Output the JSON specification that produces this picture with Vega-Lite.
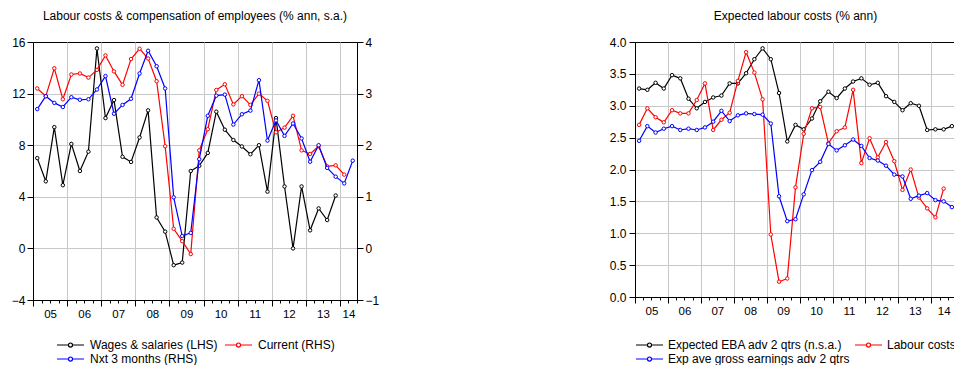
{
  "$schema": "https://vega.github.io/schema/vega-lite/v6.json",
  "padding": {"left": 5, "top": 9, "right": 0, "bottom": 0},
  "config": {
    "font": "Liberation Sans",
    "view": {"stroke": "black", "strokeWidth": 1},
    "style": {"cell": {"stroke": "black", "strokeWidth": 1}},
    "axis": {"labelFont": "Liberation Sans", "labelFontSize": 11, "labelColor": "black", "domainColor": "black", "tickColor": "black", "gridColor": "#c8c8c8", "gridWidth": 1},
    "axisY": {"labelFontSize": 12},
    "axisX": {"labelFontSize": 11.5},
    "legend": {"layout": {"bottom": {"anchor": "middle"}}},
    "title": {"fontSize": 12, "fontWeight": "normal", "font": "Liberation Sans", "color": "black", "offset": 13}
  },
  "resolve": {"scale": {"color": "independent"}, "legend": {"color": "independent"}},
  "spacing": 227,
  "hconcat": [
    {
      "width": 324,
      "height": 258,
      "view": {"stroke": "black", "strokeWidth": 1},
      "title": "Labour costs & compensation of employees (% ann, s.a.)",
      "data": {"values": [
        {"t": 2005.125, "w": 7.0, "c": 3.10, "n": 2.70},
        {"t": 2005.375, "w": 5.2, "c": 2.95, "n": 2.95},
        {"t": 2005.625, "w": 9.4, "c": 3.49, "n": 2.82},
        {"t": 2005.875, "w": 4.9, "c": 2.89, "n": 2.74},
        {"t": 2006.125, "w": 8.1, "c": 3.37, "n": 2.93},
        {"t": 2006.375, "w": 6.0, "c": 3.39, "n": 2.88},
        {"t": 2006.625, "w": 7.5, "c": 3.31, "n": 2.89},
        {"t": 2006.875, "w": 15.5, "c": 3.46, "n": 3.08},
        {"t": 2007.125, "w": 10.1, "c": 3.74, "n": 3.34},
        {"t": 2007.375, "w": 11.5, "c": 3.43, "n": 2.61},
        {"t": 2007.625, "w": 7.1, "c": 3.17, "n": 2.78},
        {"t": 2007.875, "w": 6.7, "c": 3.67, "n": 2.90},
        {"t": 2008.125, "w": 8.6, "c": 3.87, "n": 3.39},
        {"t": 2008.375, "w": 10.7, "c": 3.68, "n": 3.83},
        {"t": 2008.625, "w": 2.4, "c": 3.24, "n": 3.53},
        {"t": 2008.875, "w": 1.3, "c": 1.98, "n": 3.10},
        {"t": 2009.125, "w": -1.3, "c": 0.38, "n": 0.99},
        {"t": 2009.375, "w": -1.1, "c": 0.14, "n": 0.24},
        {"t": 2009.625, "w": 6.0, "c": -0.11, "n": 0.30},
        {"t": 2009.875, "w": 6.4, "c": 1.90, "n": 1.73},
        {"t": 2010.125, "w": 7.4, "c": 2.31, "n": 2.57},
        {"t": 2010.375, "w": 10.6, "c": 3.07, "n": 2.96},
        {"t": 2010.625, "w": 9.2, "c": 3.18, "n": 2.98},
        {"t": 2010.875, "w": 8.4, "c": 2.79, "n": 2.40},
        {"t": 2011.125, "w": 7.9, "c": 2.95, "n": 2.60},
        {"t": 2011.375, "w": 7.3, "c": 2.78, "n": 2.67},
        {"t": 2011.625, "w": 8.0, "c": 3.00, "n": 3.26},
        {"t": 2011.875, "w": 4.4, "c": 2.86, "n": 2.09},
        {"t": 2012.125, "w": 10.1, "c": 2.25, "n": 2.48},
        {"t": 2012.375, "w": 4.8, "c": 2.34, "n": 2.18},
        {"t": 2012.625, "w": 0.0, "c": 2.57, "n": 2.42},
        {"t": 2012.875, "w": 4.8, "c": 1.90, "n": 2.13},
        {"t": 2013.125, "w": 1.4, "c": 1.83, "n": 1.68},
        {"t": 2013.375, "w": 3.1, "c": 1.98, "n": 2.00},
        {"t": 2013.625, "w": 2.2, "c": 1.59, "n": 1.56},
        {"t": 2013.875, "w": 4.1, "c": 1.61, "n": 1.39},
        {"t": 2014.125, "c": 1.43, "n": 1.26},
        {"t": 2014.375, "n": 1.70}
      ]},
      "encoding": {
        "x": {
          "field": "t", "type": "quantitative",
          "scale": {"domain": [2005, 2014.5], "nice": false, "zero": false},
          "axis": {
            "title": null,
            "values": [2005, 2005.25, 2005.5, 2005.75, 2006, 2006.25, 2006.5, 2006.75, 2007, 2007.25, 2007.5, 2007.75, 2008, 2008.25, 2008.5, 2008.75, 2009, 2009.25, 2009.5, 2009.75, 2010, 2010.25, 2010.5, 2010.75, 2011, 2011.25, 2011.5, 2011.75, 2012, 2012.25, 2012.5, 2012.75, 2013, 2013.25, 2013.5, 2013.75, 2014, 2014.25, 2014.5],
            "labelExpr": "datum.value < 2014 && datum.value % 1 == 0.5 ? slice(toString(floor(datum.value)), 2) : (datum.value == 2014.25 ? '14' : '')",
            "labelFlush": false,
            "labelPadding": 5,
            "tickSize": {"condition": {"test": "datum.value % 1 == 0", "value": 6}, "value": 3},
            "gridOpacity": {"condition": {"test": "datum.value % 1 == 0 && datum.value > 2005", "value": 1}, "value": 0},
            "grid": true
          }
        }
      },
      "layer": [
        {
          "mark": {"type": "line", "strokeWidth": 1.2, "point": {"filled": false, "fill": "white", "size": 12, "strokeWidth": 1}},
          "encoding": {
            "y": {"field": "w", "type": "quantitative", "scale": {"domain": [-4, 16], "nice": false, "zero": false},
              "axis": {"title": null, "orient": "left", "values": [-4, 0, 4, 8, 12, 16], "grid": true, "gridOpacity": {"condition": {"test": "datum.value == 16 || datum.value == -4", "value": 0}, "value": 1}, "tickSize": 6, "labelPadding": 2, "minExtent": 27, "maxExtent": 27}},
            "color": {
              "datum": "Wages & salaries (LHS)", "type": "nominal",
              "scale": {"domain": ["Wages & salaries (LHS)", "Current (RHS)", "Nxt 3 months (RHS)"], "range": ["#000000", "#ff0000", "#0000ff"]},
              "legend": {"title": null, "orient": "bottom", "direction": "horizontal", "columns": 2, "labelFontSize": 12, "labelFont": "Liberation Sans", "labelColor": "black", "labelLimit": 400, "symbolType": "M-1,0L-0.15,0M0.15,0L1,0M0.15,0A0.15,0.15,0,1,1,-0.15,0A0.15,0.15,0,1,1,0.15,0", "symbolSize": 729, "symbolStrokeWidth": 1.2, "symbolFillColor": "white", "clipHeight": 14, "columnPadding": 6, "rowPadding": 0, "labelOffset": 5, "offset": 18}
            }
          }
        },
        {
          "layer": [
            {
              "mark": {"type": "line", "strokeWidth": 1.2, "point": {"filled": false, "fill": "white", "size": 12, "strokeWidth": 1}},
              "encoding": {
                "y": {"field": "c", "type": "quantitative", "scale": {"domain": [-1, 4], "nice": false, "zero": false},
                  "axis": {"title": null, "orient": "right", "values": [-1, 0, 1, 2, 3, 4], "grid": false, "tickSize": 6, "labelPadding": 2, "minExtent": 17, "maxExtent": 17}},
                "color": {"datum": "Current (RHS)", "type": "nominal"}
              }
            },
            {
              "mark": {"type": "line", "strokeWidth": 1.2, "point": {"filled": false, "fill": "white", "size": 12, "strokeWidth": 1}},
              "encoding": {
                "y": {"field": "n", "type": "quantitative", "scale": {"domain": [-1, 4], "nice": false, "zero": false},
                  "axis": {"title": null, "orient": "right", "values": [-1, 0, 1, 2, 3, 4], "grid": false, "tickSize": 6, "labelPadding": 2, "minExtent": 17, "maxExtent": 17}},
                "color": {"datum": "Nxt 3 months (RHS)", "type": "nominal"}
              }
            }
          ]
        }
      ],
      "resolve": {"scale": {"y": "independent"}}
    },
    {
      "width": 321,
      "height": 255,
      "view": {"stroke": "black", "strokeWidth": 1},
      "title": "Expected labour costs (% ann)",
      "data": {"values": [
        {"t": 2005.125, "e": 3.27, "l": 2.70, "g": 2.45},
        {"t": 2005.375, "e": 3.25, "l": 2.96, "g": 2.68},
        {"t": 2005.625, "e": 3.36, "l": 2.82, "g": 2.58},
        {"t": 2005.875, "e": 3.27, "l": 2.74, "g": 2.64},
        {"t": 2006.125, "e": 3.48, "l": 2.93, "g": 2.68},
        {"t": 2006.375, "e": 3.43, "l": 2.88, "g": 2.62},
        {"t": 2006.625, "e": 3.11, "l": 2.88, "g": 2.64},
        {"t": 2006.875, "e": 2.96, "l": 3.09, "g": 2.62},
        {"t": 2007.125, "e": 3.06, "l": 3.35, "g": 2.66},
        {"t": 2007.375, "e": 3.13, "l": 2.62, "g": 2.75},
        {"t": 2007.625, "e": 3.16, "l": 2.78, "g": 2.92},
        {"t": 2007.875, "e": 3.35, "l": 2.89, "g": 2.76},
        {"t": 2008.125, "e": 3.35, "l": 3.39, "g": 2.85},
        {"t": 2008.375, "e": 3.51, "l": 3.84, "g": 2.88},
        {"t": 2008.625, "e": 3.73, "l": 3.52, "g": 2.87},
        {"t": 2008.875, "e": 3.90, "l": 3.10, "g": 2.86},
        {"t": 2009.125, "e": 3.73, "l": 0.98, "g": 2.72},
        {"t": 2009.375, "e": 3.20, "l": 0.24, "g": 1.58},
        {"t": 2009.625, "e": 2.44, "l": 0.29, "g": 1.19},
        {"t": 2009.875, "e": 2.70, "l": 1.72, "g": 1.22},
        {"t": 2010.125, "e": 2.63, "l": 2.56, "g": 1.61},
        {"t": 2010.375, "e": 2.80, "l": 2.96, "g": 1.99},
        {"t": 2010.625, "e": 3.07, "l": 2.98, "g": 2.12},
        {"t": 2010.875, "e": 3.22, "l": 2.41, "g": 2.40},
        {"t": 2011.125, "e": 3.12, "l": 2.60, "g": 2.30},
        {"t": 2011.375, "e": 3.27, "l": 2.66, "g": 2.38},
        {"t": 2011.625, "e": 3.38, "l": 3.25, "g": 2.47},
        {"t": 2011.875, "e": 3.43, "l": 2.10, "g": 2.37},
        {"t": 2012.125, "e": 3.33, "l": 2.49, "g": 2.18},
        {"t": 2012.375, "e": 3.36, "l": 2.19, "g": 2.14},
        {"t": 2012.625, "e": 3.15, "l": 2.43, "g": 2.06},
        {"t": 2012.875, "e": 3.06, "l": 2.13, "g": 1.92},
        {"t": 2013.125, "e": 2.93, "l": 1.68, "g": 1.89},
        {"t": 2013.375, "e": 3.04, "l": 2.00, "g": 1.54},
        {"t": 2013.625, "e": 3.00, "l": 1.56, "g": 1.59},
        {"t": 2013.875, "e": 2.62, "l": 1.39, "g": 1.63},
        {"t": 2014.125, "e": 2.63, "l": 1.25, "g": 1.52},
        {"t": 2014.375, "e": 2.63, "l": 1.70, "g": 1.50},
        {"t": 2014.625, "e": 2.68, "g": 1.41}
      ]},
      "encoding": {
        "x": {
          "field": "t", "type": "quantitative",
          "scale": {"domain": [2005, 2014.75], "nice": false, "zero": false},
          "axis": {
            "title": null,
            "values": [2005, 2005.25, 2005.5, 2005.75, 2006, 2006.25, 2006.5, 2006.75, 2007, 2007.25, 2007.5, 2007.75, 2008, 2008.25, 2008.5, 2008.75, 2009, 2009.25, 2009.5, 2009.75, 2010, 2010.25, 2010.5, 2010.75, 2011, 2011.25, 2011.5, 2011.75, 2012, 2012.25, 2012.5, 2012.75, 2013, 2013.25, 2013.5, 2013.75, 2014, 2014.25, 2014.5, 2014.75, 2014.375],
            "labelExpr": "datum.value < 2014 && datum.value % 1 == 0.5 ? slice(toString(floor(datum.value)), 2) : (datum.value == 2014.375 ? '14' : '')",
            "labelFlush": false,
            "labelPadding": 5,
            "tickSize": {"condition": {"test": "datum.value % 1 == 0", "value": 6}, "value": 3},
            "tickOpacity": {"condition": {"test": "datum.value == 2014.375", "value": 0}, "value": 1},
            "gridOpacity": {"condition": {"test": "datum.value % 1 == 0 && datum.value > 2005", "value": 1}, "value": 0},
            "grid": true
          }
        },
        "y": {"type": "quantitative", "scale": {"domain": [0, 4], "nice": false, "zero": false},
          "axis": {"title": null, "values": [0, 0.5, 1, 1.5, 2, 2.5, 3, 3.5, 4], "format": ".1f", "grid": true, "gridOpacity": {"condition": {"test": "datum.value == 4 || datum.value == 0", "value": 0}, "value": 1}, "tickSize": 6, "labelPadding": 3, "minExtent": 27, "maxExtent": 27}}
      },
      "layer": [
        {
          "mark": {"type": "line", "strokeWidth": 1.2, "point": {"filled": false, "fill": "white", "size": 12, "strokeWidth": 1}},
          "encoding": {
            "y": {"field": "e"},
            "color": {
              "datum": "Expected EBA adv 2 qtrs (n.s.a.)", "type": "nominal",
              "scale": {"domain": ["Expected EBA adv 2 qtrs (n.s.a.)", "Labour costs", "Exp ave gross earnings adv 2 qtrs"], "range": ["#000000", "#ff0000", "#0000ff"]},
              "legend": {"title": null, "orient": "bottom", "direction": "horizontal", "columns": 2, "labelFontSize": 12, "labelFont": "Liberation Sans", "labelColor": "black", "labelLimit": 400, "symbolType": "M-1,0L-0.15,0M0.15,0L1,0M0.15,0A0.15,0.15,0,1,1,-0.15,0A0.15,0.15,0,1,1,0.15,0", "symbolSize": 729, "symbolStrokeWidth": 1.2, "symbolFillColor": "white", "clipHeight": 14, "columnPadding": 4, "rowPadding": 0, "labelOffset": 4, "offset": 21}
            }
          }
        },
        {
          "mark": {"type": "line", "strokeWidth": 1.2, "point": {"filled": false, "fill": "white", "size": 12, "strokeWidth": 1}},
          "encoding": {"y": {"field": "l"}, "color": {"datum": "Labour costs", "type": "nominal"}}
        },
        {
          "mark": {"type": "line", "strokeWidth": 1.2, "point": {"filled": false, "fill": "white", "size": 12, "strokeWidth": 1}},
          "encoding": {"y": {"field": "g"}, "color": {"datum": "Exp ave gross earnings adv 2 qtrs", "type": "nominal"}}
        }
      ]
    }
  ]
}
